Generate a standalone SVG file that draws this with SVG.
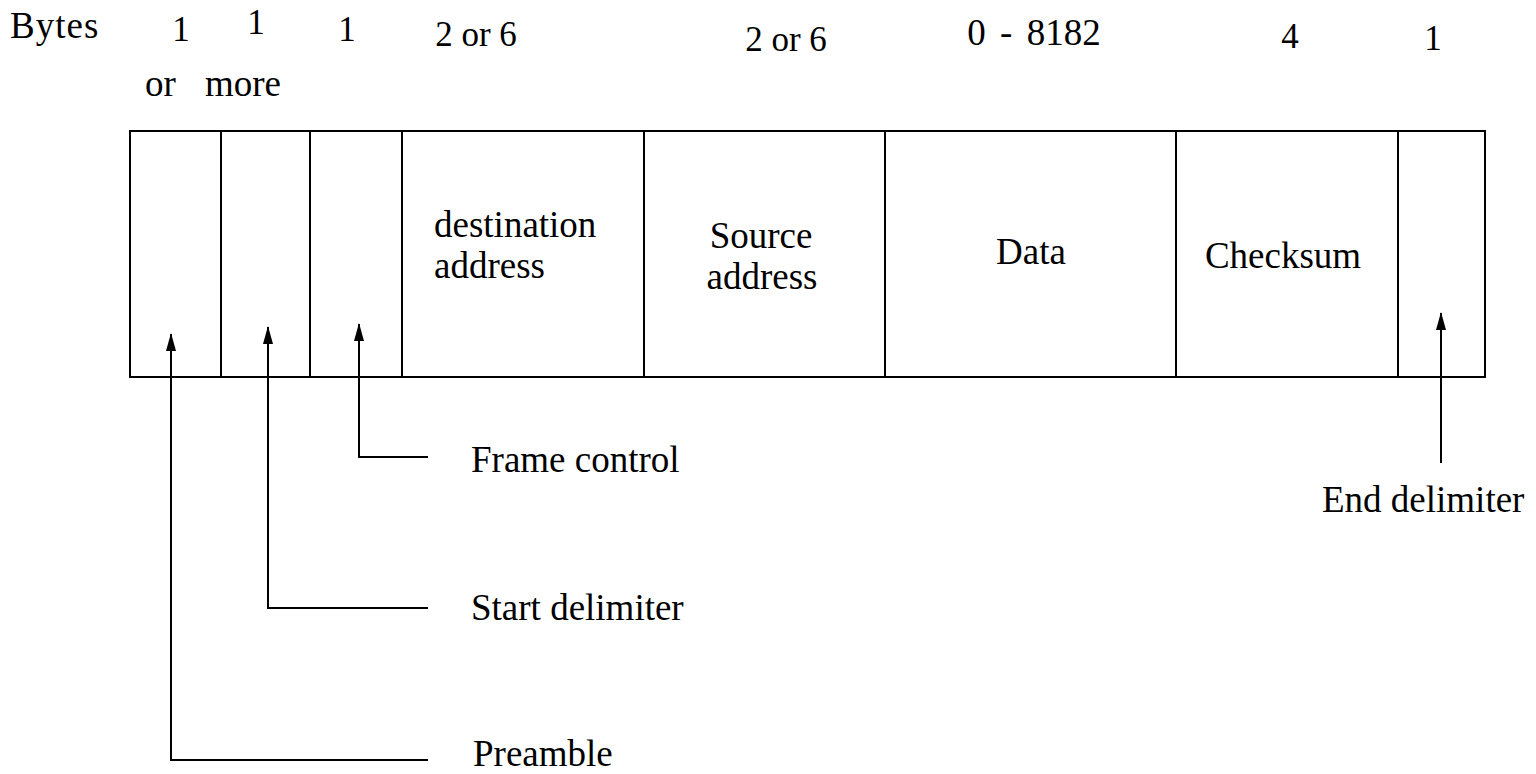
<svg xmlns="http://www.w3.org/2000/svg" width="1536" height="774" viewBox="0 0 1536 774">
  <defs>
    <marker id="arrow" viewBox="0 0 18 10" refX="17" refY="5" markerWidth="18" markerHeight="10" markerUnits="userSpaceOnUse" orient="auto">
      <path d="M0,0 L18,5 L0,10 Z" fill="#000"/>
    </marker>
    <style>
      text { font-family: "Liberation Serif", "Times New Roman", Times, serif; font-size: 37px; fill: #000; }
      .num { font-size: 35px; }
      .mid { text-anchor: middle; }
      .frame { fill: #fff; stroke: #000; stroke-width: 2; }
      .div { stroke: #000; stroke-width: 2; }
      .conn { fill: none; stroke: #000; stroke-width: 2; }
    </style>
  </defs>
  <rect width="1536" height="774" fill="#fff"/>

  <!-- byte counts header -->
  <g id="header">
    <text x="10" y="38" letter-spacing="1">Bytes</text>
    <text class="num mid" x="181" y="41">1</text>
    <text class="num mid" x="256" y="34">1</text>
    <text class="num mid" x="347" y="41">1</text>
    <text x="145" y="96">or<tspan x="205">more</tspan></text>
    <text class="num mid" x="476" y="46">2 or 6</text>
    <text class="num mid" x="786" y="51">2 or 6</text>
    <text class="mid" x="1034" y="45" word-spacing="5">0 - 8182</text>
    <text class="num mid" x="1290" y="48">4</text>
    <text class="num mid" x="1433" y="50">1</text>
  </g>

  <!-- frame outline and fields -->
  <g id="frame">
    <rect class="frame" x="130" y="131" width="1355" height="246"/>
  </g>
  <g id="field-preamble"><line class="div" x1="221" y1="131" x2="221" y2="377"/></g>
  <g id="field-start"><line class="div" x1="310" y1="131" x2="310" y2="377"/></g>
  <g id="field-control"><line class="div" x1="402" y1="131" x2="402" y2="377"/></g>
  <g id="field-dest">
    <line class="div" x1="644" y1="131" x2="644" y2="377"/>
    <text x="434" y="237">destination</text>
    <text x="434" y="278">address</text>
  </g>
  <g id="field-source">
    <line class="div" x1="885" y1="131" x2="885" y2="377"/>
    <text class="mid" x="761" y="248">Source</text>
    <text class="mid" x="762" y="289">address</text>
  </g>
  <g id="field-data">
    <line class="div" x1="1176" y1="131" x2="1176" y2="377"/>
    <text class="mid" x="1031" y="264">Data</text>
  </g>
  <g id="field-checksum">
    <line class="div" x1="1398" y1="131" x2="1398" y2="377"/>
    <text class="mid" x="1283" y="268">Checksum</text>
  </g>
  <g id="field-end"></g>

  <!-- leader lines -->
  <g id="connectors">
    <path class="conn" d="M428,760 H171 V334" marker-end="url(#arrow)"/>
    <path class="conn" d="M428,608 H268 V327" marker-end="url(#arrow)"/>
    <path class="conn" d="M428,457 H359 V324" marker-end="url(#arrow)"/>
    <path class="conn" d="M1441,463 V313" marker-end="url(#arrow)"/>
  </g>

  <!-- labels -->
  <g id="label-control"><text x="471" y="472">Frame control</text></g>
  <g id="label-start"><text x="471" y="620">Start delimiter</text></g>
  <g id="label-preamble"><text x="473" y="766">Preamble</text></g>
  <g id="label-end"><text x="1322" y="512">End delimiter</text></g>
</svg>
